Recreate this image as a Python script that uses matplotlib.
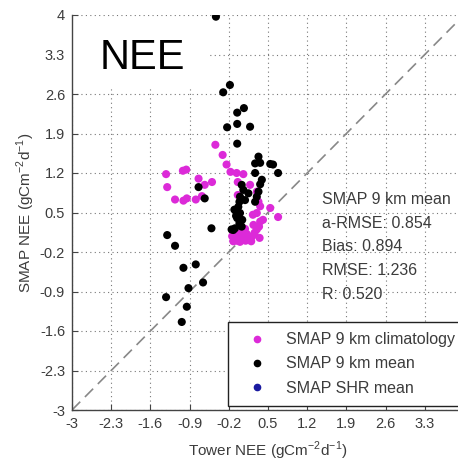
"""
NEE scatter: SMAP vs tower, re-drawn in matplotlib.
"""
import numpy as np
import matplotlib
matplotlib.use('Agg')
import matplotlib.pyplot as plt
from matplotlib.lines import Line2D
from matplotlib.patches import Rectangle

plt.rcParams['font.family'] = ['Liberation Sans', 'DejaVu Sans']
plt.rcParams['mathtext.fontset'] = 'custom'
plt.rcParams['mathtext.rm'] = 'Liberation Sans'

# SMAP 9 km mean (black)
mean_x = [-0.43, -0.18, -0.30, 0.07, -0.05, -0.05, -0.23, 0.18, -0.05, 0.33,
          0.27, 0.36, 0.54, 0.59, 0.68, 0.27, 0.39, 0.36, 0.03, 0.06,
          0.15, 0.33, 0.30, -0.74, -0.63, 0.00, -0.01, -0.03, 0.00, -0.05,
          -0.01, -0.09, -0.15, 0.03, -0.51, -1.30, -1.16, -1.01, -0.79, -0.66,
          -0.92, -1.32, -0.95, -1.04, 0.09, -0.07, 0.04, -0.12, 0.27, -0.10]
mean_y = [3.97, 2.76, 2.63, 2.35, 2.27, 2.07, 2.01, 2.02, 1.72, 1.49,
          1.37, 1.38, 1.36, 1.35, 1.20, 1.20, 1.08, 1.00, 0.99, 0.90,
          0.84, 0.87, 0.78, 0.95, 0.75, 0.78, 0.69, 0.60, 0.49, 0.40,
          0.31, 0.22, 0.20, 0.25, 0.22, 0.10, -0.09, -0.48, -0.42, -0.74,
          -0.84, -1.00, -1.17, -1.44, 0.72, 0.44, 0.37, 0.19, 0.69, 0.55]

# SMAP 9 km climatology (magenta)
clim_x = [-0.44, -0.31, -0.24, -0.17, -0.06, 0.06, -0.04, 0.18, 0.30, 0.33,
          0.36, 0.54, 0.68, 0.30, 0.24, 0.36, -1.32, -1.02, -0.96, -0.74,
          -1.30, -0.63, -0.50, -1.16, -1.01, -0.95, -0.79, -0.68, -0.04, 0.23,
          0.41, 0.34,
          -0.14, -0.10, -0.06, -0.02, 0.02, 0.06, 0.10, 0.14, 0.18, 0.22,
          0.26, 0.30, 0.35, 0.05, -0.08, 0.12, 0.20, 0.00, -0.12, 0.09]
clim_y = [1.70, 1.52, 1.35, 1.22, 1.20, 1.18, 1.04, 0.99, 0.87, 0.69,
          0.61, 0.58, 0.42, 0.49, 0.28, 0.34, 1.18, 1.24, 1.26, 1.10,
          0.95, 0.99, 1.04, 0.73, 0.71, 0.75, 0.73, 0.79, 0.81, 0.46,
          0.37, 0.25,
          0.08, 0.03, 0.00, 0.04, 0.10, 0.03, 0.00, 0.05, 0.02, 0.08,
          0.14, 0.20, 0.05, 0.18, 0.14, 0.12, -0.01, -0.02, -0.01, 0.21]

# SMAP SHR mean (blue) - no points visible
shr_x = []
shr_y = []

ticks = [-3, -2.3, -1.6, -0.9, -0.2, 0.5, 1.2, 1.9, 2.6, 3.3, 4]
x_labels = ['-3', '-2.3', '-1.6', '-0.9', '-0.2', '0.5', '1.2', '1.9', '2.6', '3.3', '']
y_labels = ['-3', '-2.3', '-1.6', '-0.9', '-0.2', '0.5', '1.2', '1.9', '2.6', '3.3', '4']
stats = ['SMAP 9 km mean', 'a-RMSE: 0.854', 'Bias: 0.894', 'RMSE: 1.236', 'R: 0.520']

pink = '#dc2ad8'
blue = '#1a1aa0'
grey_txt = '#3c3c3c'

fig = plt.figure(figsize=(4.58, 4.63), dpi=100)
ax = fig.add_axes([72 / 458, 53 / 463, 392 / 458, 395 / 463])
ax.set_xlim(-3, 4)
ax.set_ylim(-3, 4)
ax.set_axisbelow(True)

ax.set_xticks(ticks)
ax.set_xticklabels(x_labels)
ax.set_yticks(ticks)
ax.set_yticklabels(y_labels)
ax.tick_params(direction='in', length=4, width=0.8, colors='#444444',
               labelcolor=grey_txt, labelsize=10.5, pad=5)
ax.grid(True, color='#777777', linestyle=(0, (1, 3)), linewidth=0.8)

for side in ['top', 'right']:
    ax.spines[side].set_visible(False)
for side in ['left', 'bottom']:
    ax.spines[side].set_color('#444444')
    ax.spines[side].set_linewidth(1.0)

# 1:1 line
ax.plot([-3, 4], [-3, 4], color='#888888', linestyle=(0, (7, 4)), linewidth=1.2, zorder=1)

ax.scatter(clim_x, clim_y, s=34, color=pink, edgecolors='none', zorder=3)
ax.scatter(mean_x, mean_y, s=34, color='black', edgecolors='none', zorder=4)
ax.scatter(shr_x, shr_y, s=34, color=blue, edgecolors='none', zorder=5)

# title box
ax.add_patch(Rectangle((-3, 2.71), 2.41, 1.25, facecolor='white',
                       edgecolor='none', zorder=1.5))
ax.text(-2.5, 3.24, 'NEE', fontsize=30, color='black', va='center', ha='left', zorder=2)

ax.text(1.46, 0.87, '\n'.join(stats), fontsize=11.5, color=grey_txt,
        va='top', ha='left', linespacing=1.74, zorder=5)

ax.set_xlabel('Tower NEE (gCm$^{\\mathregular{-2}}$d$^{\\mathregular{-1}}$)',
              fontsize=11, color=grey_txt, labelpad=6)
ax.set_ylabel('SMAP NEE (gCm$^{\\mathregular{-2}}$d$^{\\mathregular{-1}}$)',
              fontsize=11, color=grey_txt, labelpad=2)

handles = [
    Line2D([], [], linestyle='none', marker='o', markersize=4.5, color=pink),
    Line2D([], [], linestyle='none', marker='o', markersize=4.5, color='black'),
    Line2D([], [], linestyle='none', marker='o', markersize=4.5, color=blue),
]
labels = ['SMAP 9 km climatology', 'SMAP 9 km mean', 'SMAP SHR mean']
leg = ax.legend(handles, labels, loc='lower left',
                bbox_to_anchor=(228 / 458, (463 - 406) / 463),
                bbox_transform=fig.transFigure, borderaxespad=0,
                fontsize=11.5, frameon=True, fancybox=False, framealpha=1,
                edgecolor='#222222', borderpad=0.65, labelspacing=0.58,
                handlelength=2.35, handletextpad=0.6)
leg.get_frame().set_linewidth(1.0)
for t in leg.get_texts():
    t.set_color(grey_txt)
leg.set_zorder(6)

fig.savefig('out.png', dpi=100)
